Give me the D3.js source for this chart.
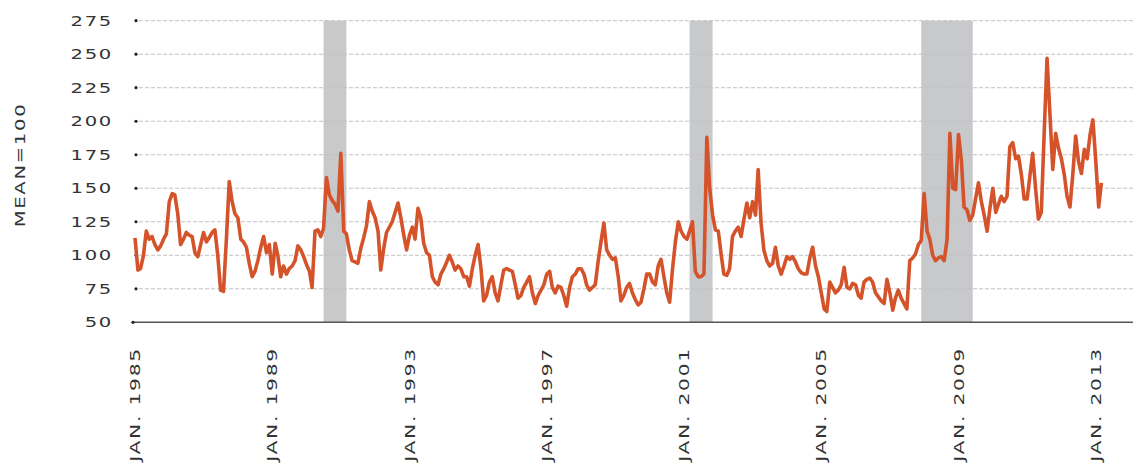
<!DOCTYPE html>
<html>
<head>
<meta charset="utf-8">
<script src="https://cdn.jsdelivr.net/npm/d3@7"></script>
<style>
  html, body { margin: 0; padding: 0; background: #fff; }
  svg { display: block; }
  text { font-family: "DejaVu Sans", sans-serif; fill: #333; }
</style>
</head>
<body>
<div id="chart"></div>
<script>
// Monthly index values (mean = 100), Jan 1985 - Mar 2013
const startYear = 1985;
const values = [
  113, 89, 90, 100, 118, 112, 114, 108, 104, 107, 112, 116,   // 1985
  140, 146, 145, 131, 108, 112, 117, 115, 114, 102, 99, 108,   // 1986
  117, 110, 113, 117, 119, 100, 74, 73, 112, 155, 140, 131,    // 1987
  128, 112, 110, 106, 94, 84, 88, 96, 106, 114, 102, 108,      // 1988
  86, 109, 100, 84, 92, 86, 90, 92, 96, 107, 104, 99,          // 1989
  93, 88, 76, 118, 119, 114, 120, 158, 145, 141, 138, 133,     // 1990
  176, 118, 116, 104, 96, 95, 94, 105, 113, 122, 140, 133,     // 1991
  128, 118, 89, 105, 117, 121, 125, 132, 139, 128, 115, 104,   // 1992
  115, 121, 112, 135, 128, 109, 102, 100, 84, 80, 78, 86,      // 1993
  90, 95, 100, 95, 89, 92, 90, 84, 84, 77, 90, 100,            // 1994
  108, 90, 66, 70, 80, 84, 72, 66, 78, 89, 90, 89,             // 1995
  88, 78, 68, 70, 76, 80, 84, 72, 64, 70, 74, 78,              // 1996
  86, 88, 76, 72, 77, 76, 70, 62, 76, 84, 86, 90,              // 1997
  90, 86, 78, 74, 76, 78, 95, 110, 124, 104, 100, 97,          // 1998
  98, 84, 66, 70, 76, 79, 72, 67, 63, 65, 75, 86,              // 1999
  86, 80, 78, 92, 97, 84, 72, 65, 90, 110, 125, 118,           // 2000
  114, 112, 118, 125, 88, 84, 84, 86, 188, 150, 130, 119,      // 2001
  118, 100, 86, 85, 90, 114, 118, 121, 114, 127, 139, 128,     // 2002
  140, 130, 164, 124, 104, 96, 92, 94, 106, 92, 86, 92,        // 2003
  99, 97, 99, 95, 90, 87, 86, 86, 98, 106, 92, 84,             // 2004
  72, 60, 58, 80, 76, 72, 74, 78, 91, 76, 75, 79,              // 2005
  78, 70, 68, 80, 82, 83, 80, 72, 69, 66, 64, 82,              // 2006
  72, 59, 68, 74, 68, 64, 60, 96, 98, 101, 108, 111,           // 2007
  146, 118, 112, 100, 96, 98, 99, 96, 112, 191, 150, 149,      // 2008
  190, 170, 136, 134, 126, 130, 142, 154, 140, 130, 118, 135,  // 2009
  150, 132, 138, 144, 140, 144, 181, 184, 172, 174, 160, 142,  // 2010
  142, 160, 176, 150, 127, 132, 190, 247, 205, 164, 191, 180,  // 2011
  172, 160, 144, 136, 160, 189, 170, 161, 179, 172, 190, 201,  // 2012
  170, 136, 154                                                // 2013
];

// Recessions (start, end) as [year, monthIndex]
const recessionStarts = [[1990, 6], [2001, 2], [2007, 11]];
const recessionEnds = [[1991, 2], [2001, 10], [2009, 5]];

const yTicks = [50, 75, 100, 125, 150, 175, 200, 225, 250, 275];
const xTickYears = [1985, 1989, 1993, 1997, 2001, 2005, 2009, 2013];
const yLabel = 'MEAN=100';

const W = 1133, H = 470;
const margin = { left: 135, right: 0, top: 20.7, bottom: 147.7 };

const svg = d3.select('#chart').append('svg')
  .attr('width', W)
  .attr('height', H);

const x = d3.scaleTime()
  .domain([new Date(1985, 0, 1), new Date(2014, 1, 1)])
  .range([margin.left, W - margin.right]);

const y = d3.scaleLinear()
  .domain([50, 275])
  .range([H - margin.bottom, margin.top]);

const data = values.map((v, i) => ({ date: new Date(startYear, i, 1), value: v }));

// Recession bands
svg.append('g').selectAll('rect')
  .data(recessionStarts.map((s, i) => ({ s: new Date(s[0], s[1], 1), e: new Date(recessionEnds[i][0], recessionEnds[i][1], 1) })))
  .enter().append('rect')
  .attr('x', d => x(d.s))
  .attr('width', d => x(d.e) - x(d.s))
  .attr('y', y(275))
  .attr('height', y(50) - y(275))
  .attr('fill', '#c8c9cb');

// Gridlines
svg.append('g').selectAll('line')
  .data(yTicks.filter(t => t > 50))
  .enter().append('line')
  .attr('x1', x.range()[0] + 4)
  .attr('x2', W)
  .attr('y1', d => y(d))
  .attr('y2', d => y(d))
  .attr('stroke', '#c2c2c2')
  .attr('stroke-width', 1)
  .attr('stroke-dasharray', '4,2');

// Bottom axis line
svg.append('line')
  .attr('x1', x.range()[0] - 2)
  .attr('x2', W)
  .attr('y1', y(50))
  .attr('y2', y(50))
  .attr('stroke', '#555')
  .attr('stroke-width', 1.6);

// Tick dots
svg.append('g').selectAll('circle')
  .data(yTicks)
  .enter().append('circle')
  .attr('cx', d => d === 50 ? x.range()[0] - 2 : x.range()[0] + 1)
  .attr('cy', d => y(d))
  .attr('r', 1.6)
  .attr('fill', '#222');

// Y tick labels
svg.append('g').selectAll('text')
  .data(yTicks)
  .enter().append('text')
  .attr('transform', d => `translate(113,${y(d)}) scale(1.4,1)`)
  .attr('text-anchor', 'end')
  .attr('dy', '0.36em')
  .attr('font-size', '14px')
  .attr('letter-spacing', '1.2px')
  .text(d => d);

// X tick labels
svg.append('g').selectAll('text')
  .data(xTickYears)
  .enter().append('text')
  .attr('transform', d => `translate(${x(new Date(d, 0, 1))},347) rotate(-90) scale(1.45,1)`)
  .attr('text-anchor', 'end')
  .attr('dy', '0.36em')
  .attr('font-size', '14px')
  .attr('letter-spacing', '1.2px')
  .text(d => `JAN. ${d}`);

// Y axis title
svg.append('text')
  .attr('transform', `translate(20,165) rotate(-90) scale(1.4,1)`)
  .attr('text-anchor', 'middle')
  .attr('dy', '0.36em')
  .attr('font-size', '14px')
  .attr('letter-spacing', '1.2px')
  .text(yLabel);

// Index line
const line = d3.line()
  .x(d => x(d.date))
  .y(d => y(d.value));

svg.append('path')
  .datum(data)
  .attr('d', line)
  .attr('fill', 'none')
  .attr('stroke', '#d4532b')
  .attr('stroke-width', 3.6)
  .attr('stroke-linejoin', 'round');
</script>
</body>
</html>
